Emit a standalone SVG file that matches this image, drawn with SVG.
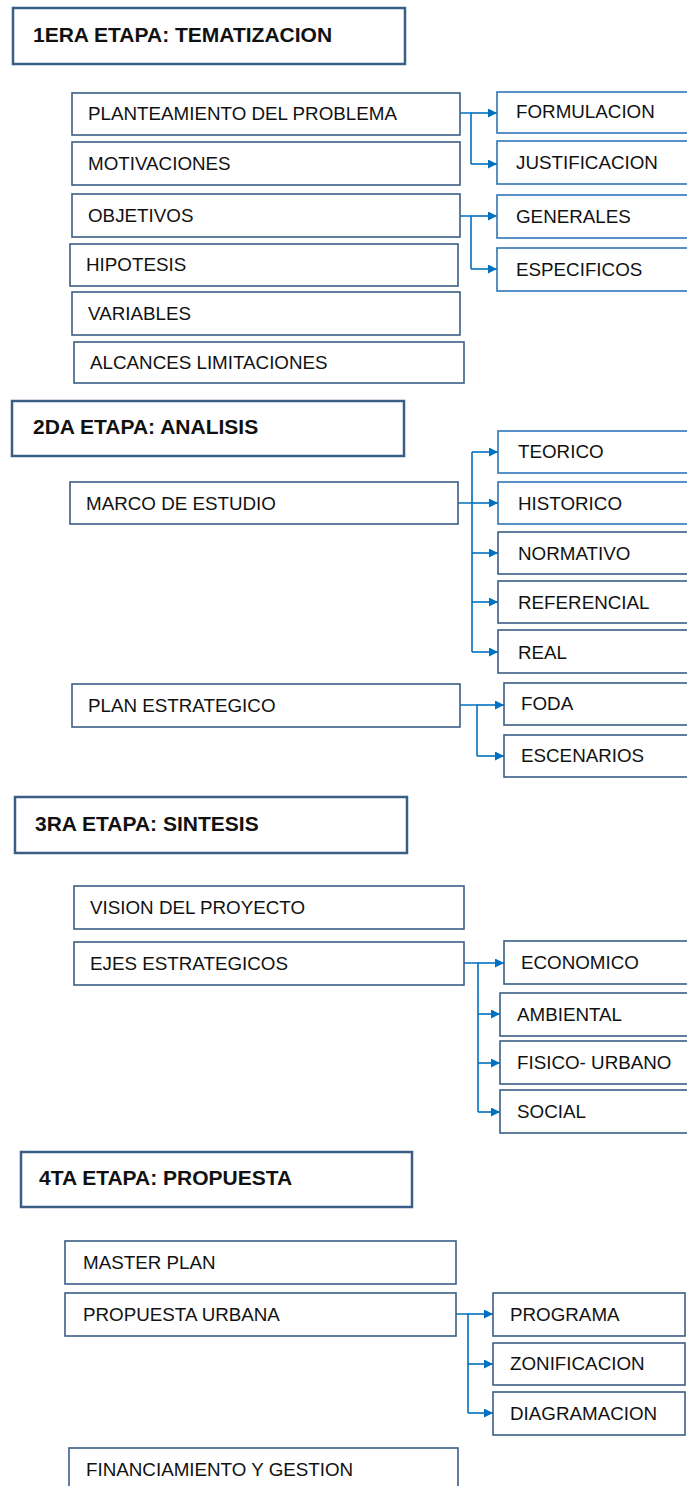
<svg xmlns="http://www.w3.org/2000/svg" width="687" height="1486" viewBox="0 0 687 1486">
<style>
.hdr{fill:#fff;stroke:#3B5E86;stroke-width:2.5}
.box{fill:#fff;stroke:#3B5E86;stroke-width:1.6}
.bbox{fill:#fff;stroke:#2E75B6;stroke-width:1.6}
.ht{font-family:"Liberation Sans",Arial,sans-serif;font-weight:bold;font-size:21px;fill:#111}
.t{font-family:"Liberation Sans",Arial,sans-serif;font-size:18.8px;fill:#111}
.c{fill:none;stroke:#0070C0;stroke-width:1.6}
</style>
<defs>
<marker id="ah" viewBox="0 0 10 10" refX="10" refY="5" markerWidth="9" markerHeight="9" markerUnits="userSpaceOnUse" orient="auto"><path d="M0,0 L10,5 L0,10 z" fill="#0070C0"/></marker>
</defs>
<rect width="687" height="1486" fill="#fff"/>

<g id="connectors">
<path class="c" d="M460,113 H471 V164"/>
<path class="c" d="M471,113 H497" marker-end="url(#ah)"/>
<path class="c" d="M471,164 H497" marker-end="url(#ah)"/>
<path class="c" d="M460,216 H471 V269"/>
<path class="c" d="M471,216 H497" marker-end="url(#ah)"/>
<path class="c" d="M471,269 H497" marker-end="url(#ah)"/>

<path class="c" d="M458,503 H472 M472,452 V652"/>
<path class="c" d="M472,452 H498" marker-end="url(#ah)"/>
<path class="c" d="M472,503 H498" marker-end="url(#ah)"/>
<path class="c" d="M472,553 H498" marker-end="url(#ah)"/>
<path class="c" d="M472,602 H498" marker-end="url(#ah)"/>
<path class="c" d="M472,652 H498" marker-end="url(#ah)"/>

<path class="c" d="M460,705 H477 V756"/>
<path class="c" d="M477,705 H504" marker-end="url(#ah)"/>
<path class="c" d="M477,756 H504" marker-end="url(#ah)"/>

<path class="c" d="M464,963 H478 V1112"/>
<path class="c" d="M478,963 H504" marker-end="url(#ah)"/>
<path class="c" d="M478,1014 H500" marker-end="url(#ah)"/>
<path class="c" d="M478,1063 H500" marker-end="url(#ah)"/>
<path class="c" d="M478,1112 H500" marker-end="url(#ah)"/>

<path class="c" d="M456,1314 H468 V1413"/>
<path class="c" d="M468,1314 H493" marker-end="url(#ah)"/>
<path class="c" d="M468,1364 H493" marker-end="url(#ah)"/>
<path class="c" d="M468,1413 H493" marker-end="url(#ah)"/>
</g>

<g id="h1"><rect class="hdr" x="13" y="8" width="392" height="56"/><text class="ht" x="33" y="42">1ERA ETAPA: TEMATIZACION</text></g>
<g id="n_planteamiento"><rect class="box" x="72" y="93" width="388" height="42"/><text class="t" x="88" y="120">PLANTEAMIENTO DEL PROBLEMA</text></g>
<g id="n_motivaciones"><rect class="box" x="72" y="142" width="388" height="43"/><text class="t" x="88" y="170">MOTIVACIONES</text></g>
<g id="n_objetivos"><rect class="box" x="72" y="194" width="388" height="43"/><text class="t" x="88" y="222">OBJETIVOS</text></g>
<g id="n_hipotesis"><rect class="box" x="70" y="244" width="388" height="42"/><text class="t" x="86" y="271">HIPOTESIS</text></g>
<g id="n_variables"><rect class="box" x="72" y="292" width="388" height="43"/><text class="t" x="88" y="320">VARIABLES</text></g>
<g id="n_alcances"><rect class="box" x="74" y="342" width="390" height="41"/><text class="t" x="90" y="369">ALCANCES LIMITACIONES</text></g>
<g id="n_formulacion"><rect class="bbox" x="497" y="92" width="200" height="41"/><text class="t" x="516" y="118">FORMULACION</text></g>
<g id="n_justificacion"><rect class="bbox" x="497" y="141" width="200" height="43"/><text class="t" x="516" y="169">JUSTIFICACION</text></g>
<g id="n_generales"><rect class="bbox" x="497" y="195" width="200" height="43"/><text class="t" x="516" y="223">GENERALES</text></g>
<g id="n_especificos"><rect class="bbox" x="497" y="248" width="200" height="43"/><text class="t" x="516" y="276">ESPECIFICOS</text></g>

<g id="h2"><rect class="hdr" x="12" y="401" width="392" height="55"/><text class="ht" x="33" y="434">2DA ETAPA: ANALISIS</text></g>
<g id="n_marco"><rect class="box" x="70" y="482" width="388" height="42"/><text class="t" x="86" y="510">MARCO DE ESTUDIO</text></g>
<g id="n_teorico"><rect class="bbox" x="498" y="431" width="200" height="42"/><text class="t" x="518" y="458">TEORICO</text></g>
<g id="n_historico"><rect class="bbox" x="498" y="482" width="200" height="42"/><text class="t" x="518" y="510">HISTORICO</text></g>
<g id="n_normativo"><rect class="box" x="498" y="532" width="200" height="42"/><text class="t" x="518" y="560">NORMATIVO</text></g>
<g id="n_referencial"><rect class="box" x="498" y="581" width="200" height="42"/><text class="t" x="518" y="609">REFERENCIAL</text></g>
<g id="n_real"><rect class="box" x="498" y="630" width="200" height="43"/><text class="t" x="518" y="659">REAL</text></g>
<g id="n_plan"><rect class="box" x="72" y="684" width="388" height="43"/><text class="t" x="88" y="712">PLAN ESTRATEGICO</text></g>
<g id="n_foda"><rect class="box" x="504" y="683" width="200" height="42"/><text class="t" x="521" y="710">FODA</text></g>
<g id="n_escenarios"><rect class="box" x="504" y="735" width="200" height="42"/><text class="t" x="521" y="762">ESCENARIOS</text></g>

<g id="h3"><rect class="hdr" x="15" y="797" width="392" height="56"/><text class="ht" x="35" y="831">3RA ETAPA: SINTESIS</text></g>
<g id="n_vision"><rect class="box" x="74" y="886" width="390" height="43"/><text class="t" x="90" y="914">VISION DEL PROYECTO</text></g>
<g id="n_ejes"><rect class="box" x="74" y="942" width="390" height="43"/><text class="t" x="90" y="970">EJES ESTRATEGICOS</text></g>
<g id="n_economico"><rect class="box" x="504" y="941" width="200" height="43"/><text class="t" x="521" y="969">ECONOMICO</text></g>
<g id="n_ambiental"><rect class="box" x="500" y="993" width="200" height="43"/><text class="t" x="517" y="1021">AMBIENTAL</text></g>
<g id="n_fisico"><rect class="box" x="500" y="1041" width="200" height="43"/><text class="t" x="517" y="1069">FISICO- URBANO</text></g>
<g id="n_social"><rect class="box" x="500" y="1090" width="200" height="43"/><text class="t" x="517" y="1118">SOCIAL</text></g>

<g id="h4"><rect class="hdr" x="21" y="1152" width="391" height="55"/><text class="ht" x="39" y="1185">4TA ETAPA: PROPUESTA</text></g>
<g id="n_master"><rect class="box" x="65" y="1241" width="391" height="43"/><text class="t" x="83" y="1269">MASTER PLAN</text></g>
<g id="n_propuesta"><rect class="box" x="65" y="1293" width="391" height="43"/><text class="t" x="83" y="1321">PROPUESTA URBANA</text></g>
<g id="n_programa"><rect class="box" x="493" y="1293" width="192" height="43"/><text class="t" x="510" y="1321">PROGRAMA</text></g>
<g id="n_zonificacion"><rect class="box" x="493" y="1343" width="192" height="42"/><text class="t" x="510" y="1370">ZONIFICACION</text></g>
<g id="n_diagramacion"><rect class="box" x="493" y="1392" width="192" height="43"/><text class="t" x="510" y="1420">DIAGRAMACION</text></g>
<g id="n_financiamiento"><rect class="box" x="69" y="1448" width="389" height="50"/><text class="t" x="86" y="1476">FINANCIAMIENTO Y GESTION</text></g>
</svg>
